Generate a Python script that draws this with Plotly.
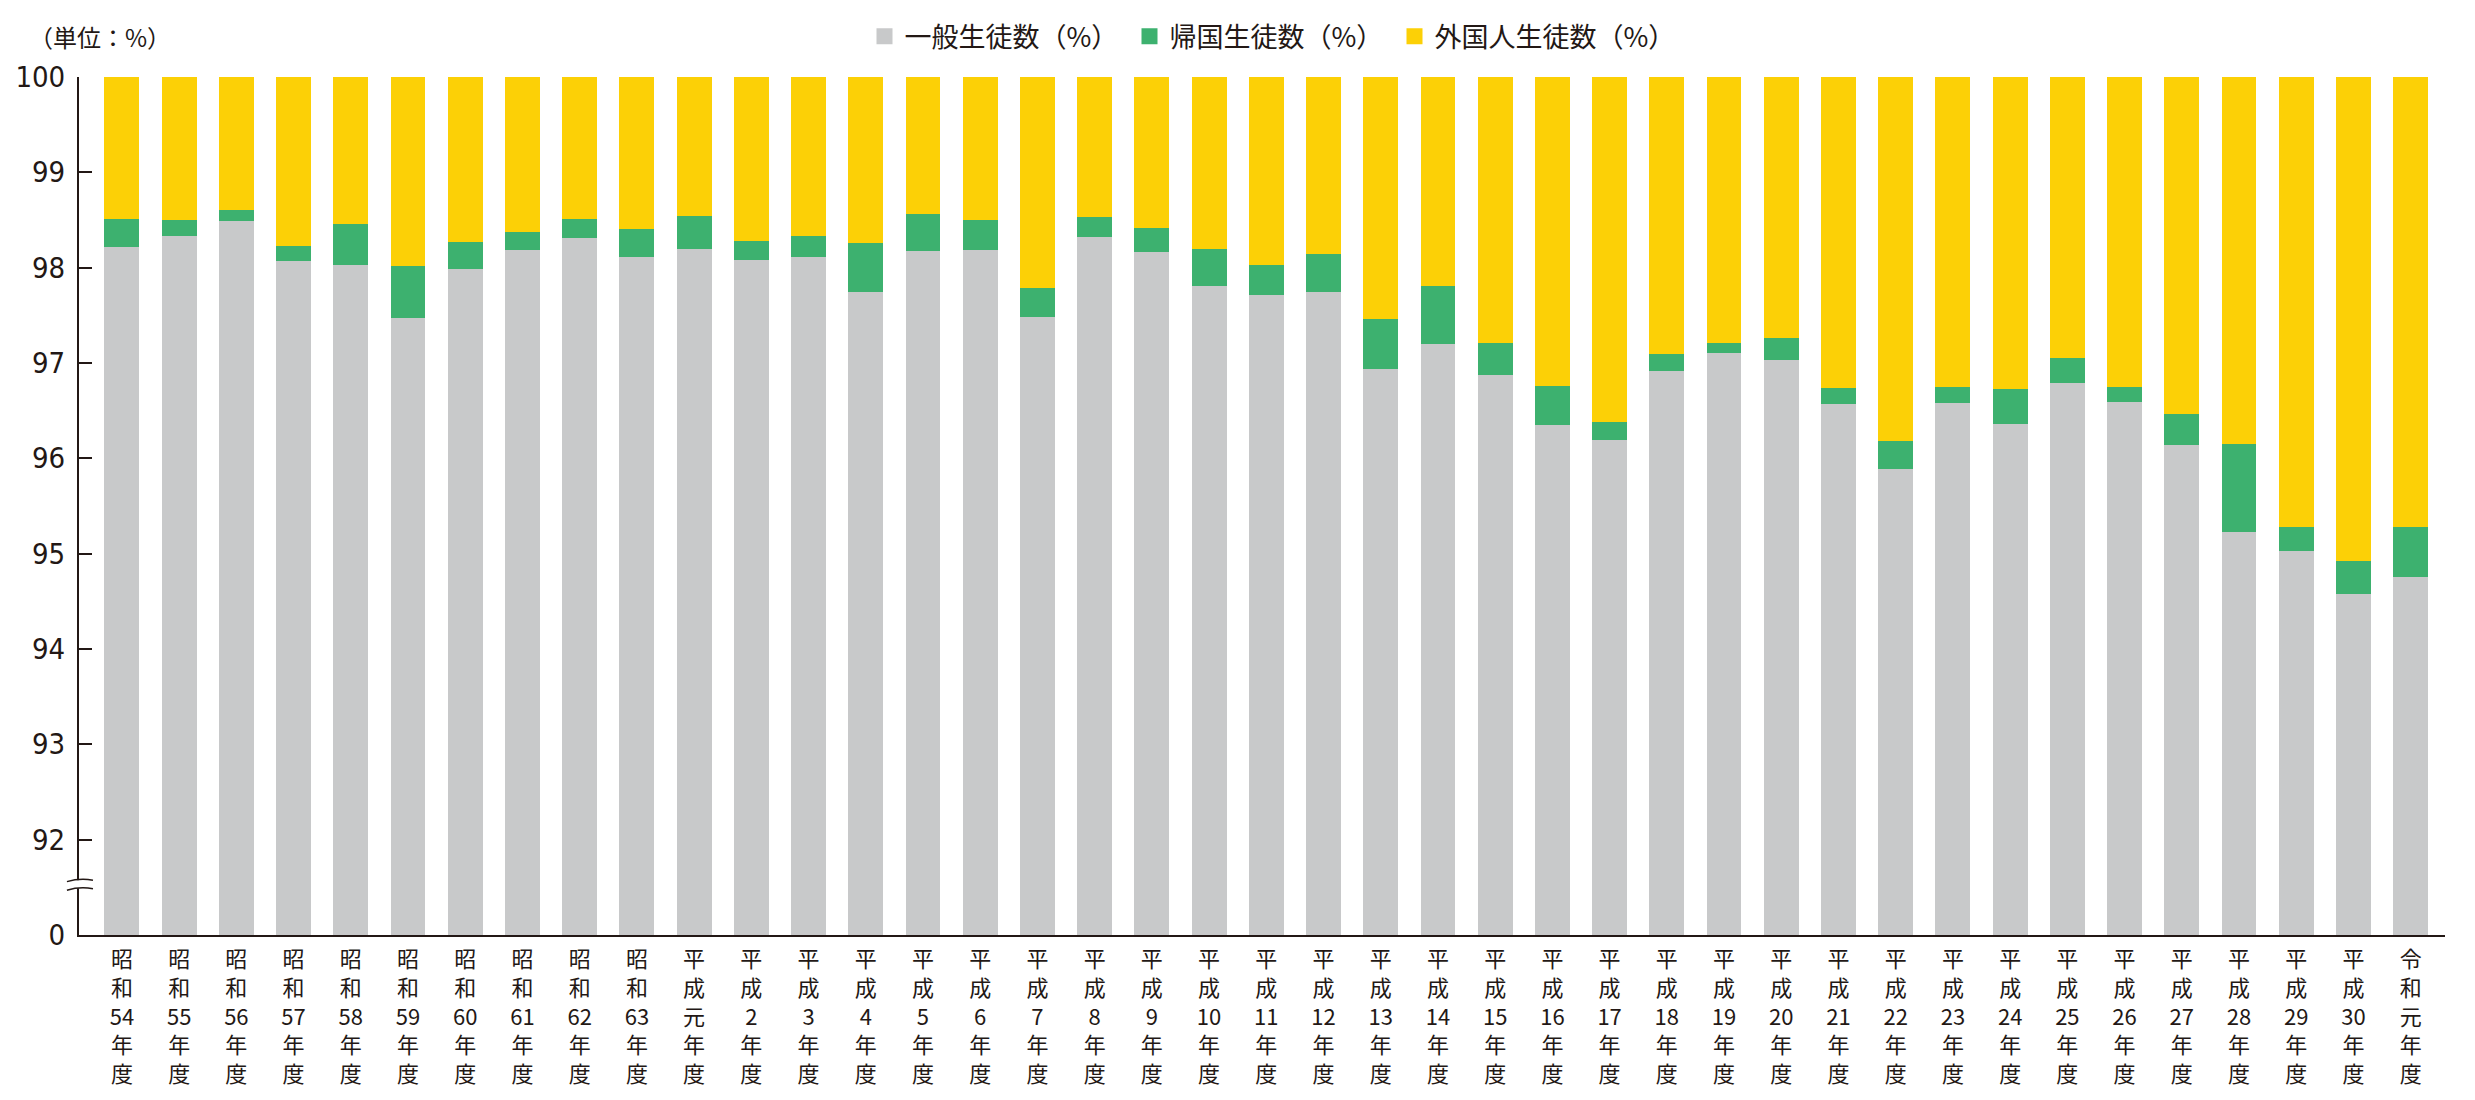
import plotly.graph_objects as go

# ---------------- data ----------------
categories = [
    "昭<br>和<br>54<br>年<br>度", "昭<br>和<br>55<br>年<br>度", "昭<br>和<br>56<br>年<br>度",
    "昭<br>和<br>57<br>年<br>度", "昭<br>和<br>58<br>年<br>度", "昭<br>和<br>59<br>年<br>度",
    "昭<br>和<br>60<br>年<br>度", "昭<br>和<br>61<br>年<br>度", "昭<br>和<br>62<br>年<br>度",
    "昭<br>和<br>63<br>年<br>度", "平<br>成<br>元<br>年<br>度", "平<br>成<br>2<br>年<br>度",
    "平<br>成<br>3<br>年<br>度", "平<br>成<br>4<br>年<br>度", "平<br>成<br>5<br>年<br>度",
    "平<br>成<br>6<br>年<br>度", "平<br>成<br>7<br>年<br>度", "平<br>成<br>8<br>年<br>度",
    "平<br>成<br>9<br>年<br>度", "平<br>成<br>10<br>年<br>度", "平<br>成<br>11<br>年<br>度",
    "平<br>成<br>12<br>年<br>度", "平<br>成<br>13<br>年<br>度", "平<br>成<br>14<br>年<br>度",
    "平<br>成<br>15<br>年<br>度", "平<br>成<br>16<br>年<br>度", "平<br>成<br>17<br>年<br>度",
    "平<br>成<br>18<br>年<br>度", "平<br>成<br>19<br>年<br>度", "平<br>成<br>20<br>年<br>度",
    "平<br>成<br>21<br>年<br>度", "平<br>成<br>22<br>年<br>度", "平<br>成<br>23<br>年<br>度",
    "平<br>成<br>24<br>年<br>度", "平<br>成<br>25<br>年<br>度", "平<br>成<br>26<br>年<br>度",
    "平<br>成<br>27<br>年<br>度", "平<br>成<br>28<br>年<br>度", "平<br>成<br>29<br>年<br>度",
    "平<br>成<br>30<br>年<br>度", "令<br>和<br>元<br>年<br>度",
]

general = [98.22, 98.33, 98.49, 98.07, 98.03, 97.47, 97.99, 98.19, 98.31, 98.11,
           98.20, 98.08, 98.11, 97.75, 98.18, 98.19, 97.48, 98.32, 98.16, 97.81,
           97.71, 97.75, 96.94, 97.20, 96.87, 96.35, 96.19, 96.92, 97.10, 97.03,
           96.57, 95.89, 96.58, 96.36, 96.79, 96.59, 96.14, 95.23, 95.03, 94.58,
           94.76]
returnee = [0.29, 0.17, 0.12, 0.16, 0.43, 0.55, 0.28, 0.18, 0.20, 0.30,
            0.34, 0.20, 0.22, 0.51, 0.38, 0.31, 0.31, 0.21, 0.26, 0.39,
            0.32, 0.39, 0.52, 0.61, 0.34, 0.41, 0.19, 0.17, 0.11, 0.23,
            0.17, 0.29, 0.17, 0.37, 0.26, 0.16, 0.32, 0.92, 0.25, 0.34,
            0.52]
foreign = [1.49, 1.50, 1.39, 1.77, 1.54, 1.98, 1.73, 1.63, 1.49, 1.59,
           1.46, 1.72, 1.67, 1.74, 1.44, 1.50, 2.21, 1.47, 1.58, 1.80,
           1.97, 1.86, 2.54, 2.19, 2.79, 3.24, 3.62, 2.91, 2.79, 2.74,
           3.26, 3.82, 3.25, 3.27, 2.95, 3.25, 3.54, 3.85, 4.72, 5.08,
           4.72]

series_names = ["一般生徒数（%）", "帰国生徒数（%）", "外国人生徒数（%）"]
y_tick_vals = [91, 92, 93, 94, 95, 96, 97, 98, 99, 100]
y_tick_text = ["0", "92", "93", "94", "95", "96", "97", "98", "99", "100"]

# ---------------- style ----------------
colors = ["#C8C9CA", "#3DB16F", "#FCD006"]
ink = "#231815"
cjk = "Noto Sans CJK JP, Noto Sans CJK SC, sans-serif"
num_font = "Liberation Sans Narrow, DejaVu Sans Condensed, Noto Sans CJK JP, sans-serif"

x_idx = list(range(len(categories)))

fig = go.Figure()
for vals, name, col in zip([general, returnee, foreign], series_names, colors):
    fig.add_trace(go.Bar(
        x=x_idx, y=vals, name=name, marker=dict(color=col, line=dict(width=0)),
        showlegend=False,
    ))
# legend entries with larger square symbols
for name, col in zip(series_names, colors):
    fig.add_trace(go.Scatter(
        x=[None], y=[None], mode="markers", name=name,
        marker=dict(symbol="square", size=20, color=col),
    ))

fig.update_layout(
    width=2475, height=1100,
    barmode="stack", bargap=0.39,
    plot_bgcolor="white", paper_bgcolor="white",
    margin=dict(l=79, r=30, t=73, b=163),
    font=dict(family=cjk, color=ink),
    legend=dict(
        orientation="h", x=0.5, xanchor="center", y=1.047, yanchor="middle",
        font=dict(size=27, family=cjk, color=ink),
        entrywidth=220, entrywidthmode="pixels",
        itemsizing="trace", traceorder="normal", itemwidth=30,
    ),
    xaxis=dict(
        range=[-0.75, 40.6],
        tickmode="array", tickvals=x_idx, ticktext=categories,
        tickangle=0, ticks="", showgrid=False, zeroline=False,
        showline=True, linecolor=ink, linewidth=2,
        tickfont=dict(size=22, family=cjk, color=ink),
        ticklabelstandoff=4,
    ),
    yaxis=dict(
        range=[91, 100],
        tickmode="array", tickvals=y_tick_vals, ticktext=y_tick_text,
        ticks="inside", ticklen=13, tickwidth=2, tickcolor=ink,
        showgrid=False, zeroline=False,
        showline=True, linecolor=ink, linewidth=2,
        tickfont=dict(size=29, family=num_font, color=ink),
        ticklabelstandoff=6,
    ),
    annotations=[dict(
        text="（単位：%）", xref="paper", yref="paper",
        x=-0.022, y=1.047, xanchor="left", yanchor="middle",
        showarrow=False, font=dict(size=24, family=cjk, color=ink),
    )],
    shapes=[
        # gap in axis for the break mark
        dict(type="rect", xref="paper", yref="y", x0=-0.003, x1=0.003,
             y0=91.49, y1=91.575, fillcolor="white", line=dict(width=0), layer="above"),
        dict(type="path", xref="paper", yref="y",
             path="M -0.0051,91.56 Q 0.0004,91.60 0.0059,91.575",
             line=dict(color=ink, width=1.5), layer="above"),
        dict(type="path", xref="paper", yref="y",
             path="M -0.0051,91.47 Q 0.0004,91.51 0.0059,91.485",
             line=dict(color=ink, width=1.5), layer="above"),
    ],
)

fig.write_html("out.html", config={"displayModeBar": False},
               post_script="document.body.style.margin='0';")
